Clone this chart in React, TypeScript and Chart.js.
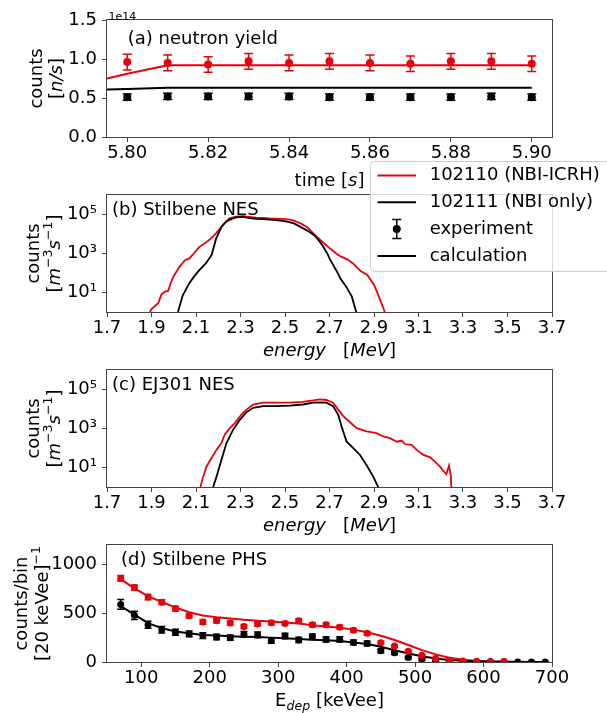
import React, { useEffect, useRef } from 'react';
import { Chart, registerables } from 'chart.js';

Chart.register(...registerables);

// ---------------- data ----------------
// (a) neutron yield, values in units of 1e14 n/s
const A_OFFSET_TEXT = '1e14';
const A_TIME_EXP = [5.80, 5.81, 5.82, 5.83, 5.84, 5.85, 5.86, 5.87, 5.88, 5.89, 5.90];
const A_RED_EXP = [0.96, 0.95, 0.93, 0.97, 0.95, 0.97, 0.95, 0.94, 0.97, 0.97, 0.94];
const A_RED_ERR = [0.10, 0.10, 0.10, 0.10, 0.10, 0.10, 0.10, 0.10, 0.10, 0.10, 0.10];
const A_BLACK_EXP = [0.51, 0.52, 0.52, 0.52, 0.52, 0.51, 0.51, 0.51, 0.51, 0.52, 0.51];
const A_BLACK_ERR = [0.04, 0.04, 0.04, 0.04, 0.04, 0.04, 0.04, 0.04, 0.04, 0.04, 0.04];
const A_TIME_CALC = [5.79, 5.80, 5.81, 5.82, 5.83, 5.84, 5.85, 5.86, 5.87, 5.88, 5.89, 5.90];
const A_RED_CALC = [0.69, 0.81, 0.92, 0.92, 0.92, 0.92, 0.92, 0.92, 0.92, 0.92, 0.92, 0.92];
const A_BLACK_CALC = [0.60, 0.615, 0.63, 0.63, 0.63, 0.63, 0.63, 0.63, 0.63, 0.63, 0.63, 0.63];
const A_X_TICKS = [5.80, 5.82, 5.84, 5.86, 5.88, 5.90];
const A_X_LABELS = ['5.80', '5.82', '5.84', '5.86', '5.88', '5.90'];
const A_Y_TICKS = [0, 0.5, 1.0, 1.5];
const A_Y_LABELS = ['0.0', '0.5', '1.0', '1.5'];

// (b) Stilbene NES
const B_RED_E = [1.88, 1.90, 1.93, 1.945, 1.96, 1.975, 1.99, 2.00, 2.025, 2.05, 2.07, 2.09, 2.115, 2.15, 2.17, 2.19, 2.22, 2.25, 2.28, 2.31, 2.34, 2.37, 2.40, 2.43, 2.46, 2.49, 2.52, 2.54, 2.57, 2.60, 2.63, 2.66, 2.70, 2.73, 2.75, 2.78, 2.81, 2.84, 2.87, 2.90, 2.925, 2.945, 2.96];
const B_RED_COUNTS = [0.5, 1.4, 2.8, 8, 11, 12, 40, 70, 200, 450, 560, 1000, 2200, 4000, 6300, 10700, 28000, 63000, 78000, 83000, 76000, 69000, 66000, 63000, 62000, 59000, 54000, 48000, 35000, 22000, 10000, 4800, 1900, 1000, 710, 500, 280, 125, 80, 25, 5, 1.3, 0.4];
const B_BLACK_E = [2.01, 2.02, 2.04, 2.07, 2.09, 2.115, 2.145, 2.17, 2.19, 2.215, 2.235, 2.255, 2.28, 2.31, 2.34, 2.37, 2.40, 2.43, 2.46, 2.49, 2.515, 2.54, 2.58, 2.61, 2.63, 2.65, 2.67, 2.69, 2.70, 2.72, 2.735, 2.75, 2.775, 2.80, 2.815, 2.83];
const B_BLACK_COUNTS = [0.5, 1.1, 7, 30, 63, 140, 320, 830, 5600, 24000, 43000, 56000, 71000, 76000, 66000, 59000, 58000, 55000, 52000, 47000, 42000, 35000, 20000, 12600, 8900, 5000, 2400, 1000, 560, 220, 110, 50, 20, 6.3, 1.6, 0.4];

// (c) EJ301 NES
const C_RED_E = [2.10, 2.12, 2.132, 2.147, 2.169, 2.192, 2.214, 2.229, 2.252, 2.274, 2.304, 2.327, 2.357, 2.402, 2.447, 2.52, 2.58, 2.626, 2.656, 2.686, 2.716, 2.739, 2.762, 2.792, 2.822, 2.867, 2.912, 2.942, 2.972, 3.002, 3.024, 3.039, 3.069, 3.092, 3.122, 3.152, 3.174, 3.197, 3.21, 3.225, 3.237, 3.245, 3.252];
const C_RED_COUNTS = [0.3, 1, 3.3, 11, 30, 80, 180, 480, 1050, 1900, 5100, 9300, 17000, 21000, 21000, 21000, 23000, 28000, 31000, 29000, 21000, 9300, 4300, 2100, 1050, 710, 580, 390, 320, 210, 240, 160, 145, 80, 44, 33, 20, 11, 7, 4.5, 12.6, 4, 0.1];
const C_BLACK_E = [2.16, 2.177, 2.192, 2.214, 2.237, 2.267, 2.297, 2.327, 2.357, 2.402, 2.462, 2.522, 2.581, 2.626, 2.656, 2.686, 2.716, 2.739, 2.754, 2.777, 2.807, 2.837, 2.867, 2.897, 2.919, 2.93];
const C_BLACK_COUNTS = [0.3, 1, 3.3, 24, 180, 870, 2800, 6800, 11500, 14000, 14000, 15000, 17000, 21000, 22000, 21000, 14000, 5100, 1300, 210, 98, 44, 13, 3.3, 1, 0.3];

const NES_X_TICKS = [1.7, 1.9, 2.1, 2.3, 2.5, 2.7, 2.9, 3.1, 3.3, 3.5, 3.7];
const NES_X_LABELS = ['1.7', '1.9', '2.1', '2.3', '2.5', '2.7', '2.9', '3.1', '3.3', '3.5', '3.7'];
const NES_Y_TICKS = [10, 1000, 100000];
const NES_Y_LABELS = ['10¹', '10³', '10⁵'];

// (d) Stilbene PHS
const D_RED_X = [70, 90, 110, 130, 150, 170, 190, 210, 230, 250, 270, 290, 310, 330, 350, 370, 390, 410, 430, 450, 470, 490, 510, 530, 550, 570, 590, 610, 630];
const D_RED_EXP = [857, 763, 666, 614, 548, 475, 409, 423, 399, 364, 389, 402, 396, 423, 382, 382, 357, 326, 295, 198, 163, 111, 69, 35, 17, 10, 7, 5, 4];
const D_RED_ERR = [30, 28, 27, 25, 24, 23, 21, 21, 20, 20, 20, 20, 20, 21, 20, 20, 19, 18, 17, 14, 13, 11, 9, 6, 5, 4, 3, 3, 2];
const D_BLACK_X = [70, 90, 110, 130, 150, 170, 190, 210, 230, 250, 270, 290, 310, 330, 350, 370, 390, 410, 430, 450, 470, 490, 510, 530, 550, 570, 590, 610, 630, 650, 670, 690];
const D_BLACK_EXP = [590, 479, 382, 330, 305, 288, 271, 257, 250, 285, 278, 219, 267, 226, 260, 232, 232, 201, 191, 115, 94, 45, 28, 14, 7, 3, 3, 2, 2, 1, 1, 1];
const D_BLACK_ERR = [50, 42, 36, 33, 31, 30, 29, 28, 28, 29, 29, 27, 28, 27, 28, 27, 27, 25, 24, 19, 17, 12, 10, 7, 5, 4, 3, 3, 3, 2, 2, 2];
const D_CALC_X = D_BLACK_X;
const D_RED_CALC = [850, 755, 675, 615, 560, 510, 478, 458, 445, 434, 424, 416, 406, 394, 378, 365, 352, 332, 305, 270, 225, 175, 122, 78, 44, 22, 11, 5, 3, 2, 1, 1];
const D_BLACK_CALC = [573, 486, 399, 347, 312, 295, 278, 271, 264, 260, 257, 250, 243, 236, 229, 222, 215, 201, 184, 156, 121, 87, 59, 35, 21, 12, 7, 4, 2, 1, 1, 1];
const D_X_TICKS = [100, 200, 300, 400, 500, 600, 700];
const D_X_LABELS = ['100', '200', '300', '400', '500', '600', '700'];
const D_Y_TICKS = [0, 500, 1000];
const D_Y_LABELS = ['0', '500', '1000'];

const LEGEND_LABELS = ['102110 (NBI-ICRH)', '102111 (NBI only)', 'experiment', 'calculation'];

// ---------------- style / layout ----------------
const W = 607;
const H = 713;
const PLOT_LEFT = 107;
const PLOT_RIGHT = 552;
const X_AXIS_BOX = 30;
const FONT = '"DejaVu Sans", sans-serif';
const RED = '#e8000b';
const BLACK = '#000000';
const AXIS = '#444444';
const FS = 18;

type Seg = { t: string; it?: boolean; sup?: boolean; sub?: boolean };

function segFont(s: Seg, size: number) {
  const sz = s.sup || s.sub ? size * 0.7 : size;
  return `${s.it ? 'italic ' : ''}${sz}px ${FONT}`;
}

function drawRich(ctx: CanvasRenderingContext2D, segs: Seg[], x: number, y: number, size: number, align: 'left' | 'center', rotate = false) {
  ctx.save();
  ctx.translate(x, y);
  if (rotate) ctx.rotate(-Math.PI / 2);
  ctx.textAlign = 'left';
  ctx.textBaseline = 'alphabetic';
  ctx.fillStyle = '#000';
  const widths = segs.map((s) => {
    ctx.font = segFont(s, size);
    return ctx.measureText(s.t).width;
  });
  const total = widths.reduce((a, b) => a + b, 0);
  let cx = align === 'center' ? -total / 2 : 0;
  segs.forEach((s, i) => {
    ctx.font = segFont(s, size);
    const dy = s.sup ? -0.42 * size : s.sub ? 0.22 * size : 0;
    ctx.fillText(s.t, cx, dy);
    cx += widths[i];
  });
  ctx.restore();
}

function drawFrame(chart: any) {
  const { ctx, chartArea: a } = chart;
  ctx.save();
  ctx.strokeStyle = AXIS;
  ctx.lineWidth = 1;
  const l = Math.round(a.left) - 0.5;
  const r = Math.round(a.right) + 0.5;
  const t = Math.round(a.top) - 0.5;
  const b = Math.round(a.bottom) + 0.5;
  ctx.strokeRect(l, t, r - l, b - t);
  ctx.restore();
}

const errorBarPlugin = {
  id: 'errorBars',
  beforeDatasetDraw(chart: any, args: any) {
    const ds = chart.data.datasets[args.index];
    if (!ds.errors) return;
    const { ctx, chartArea: a } = chart;
    const xs = chart.scales.x;
    const ys = chart.scales.y;
    ctx.save();
    ctx.beginPath();
    ctx.rect(a.left, a.top, a.right - a.left, a.bottom - a.top);
    ctx.clip();
    ctx.strokeStyle = ds.pointBackgroundColor;
    ctx.lineWidth = 1.5;
    const c = ds.capHalf || 4;
    ds.data.forEach((p: any, i: number) => {
      const e = ds.errors[i];
      const x = xs.getPixelForValue(p.x);
      const yt = ys.getPixelForValue(p.y + e);
      const yb = ys.getPixelForValue(p.y - e);
      ctx.beginPath();
      ctx.moveTo(x, yt);
      ctx.lineTo(x, yb);
      ctx.moveTo(x - c, yt);
      ctx.lineTo(x + c, yt);
      ctx.moveTo(x - c, yb);
      ctx.lineTo(x + c, yb);
      ctx.stroke();
    });
    ctx.restore();
  },
};

const pts = (xs: number[], ys: number[]) => xs.map((x, i) => ({ x, y: ys[i] }));

function lineDs(xs: number[], ys: number[], color: string, width = 2) {
  return { data: pts(xs, ys), borderColor: color, borderWidth: width, pointRadius: 0, fill: false, tension: 0 };
}

function expDs(xs: number[], ys: number[], errs: number[], color: string, r: number, cap: number) {
  return {
    data: pts(xs, ys),
    errors: errs,
    capHalf: cap,
    showLine: false,
    pointRadius: r,
    pointBackgroundColor: color,
    pointBorderColor: color,
    pointBorderWidth: 0,
    borderColor: color,
  };
}

interface PanelCfg {
  top: number;
  bottom: number;
  xMin: number;
  xMax: number;
  xTicks: number[];
  xLabels: string[];
  yType: 'linear' | 'logarithmic';
  yMin: number;
  yMax: number;
  yTicks: number[];
  yLabels: string[];
  datasets: any[];
  extras: (ctx: CanvasRenderingContext2D, chart: any) => void;
}

function makeChart(canvas: HTMLCanvasElement, p: PanelCfg) {
  const tickFont = { family: FONT, size: FS };
  const grid = { display: true, drawOnChartArea: false, drawTicks: true, tickLength: 5, tickColor: AXIS, tickWidth: 1 };
  return new Chart(canvas, {
    type: 'line',
    data: { datasets: p.datasets },
    options: {
      animation: false,
      responsive: false,
      devicePixelRatio: 1,
      events: [],
      layout: { padding: { left: 0, right: W - PLOT_RIGHT, top: p.top, bottom: H - p.bottom - X_AXIS_BOX } },
      plugins: { legend: { display: false }, tooltip: { enabled: false }, title: { display: false } },
      scales: {
        x: {
          type: 'linear',
          position: 'bottom',
          min: p.xMin,
          max: p.xMax,
          bounds: 'data',
          afterBuildTicks: (s: any) => {
            s.ticks = p.xTicks.map((v) => ({ value: v }));
          },
          afterFit: (s: any) => {
            s.height = X_AXIS_BOX;
          },
          ticks: {
            callback: (_v: any, i: number) => p.xLabels[i],
            font: tickFont,
            color: '#000',
            padding: 1,
            maxRotation: 0,
            minRotation: 0,
            autoSkip: false,
          },
          grid,
          border: { display: false },
        },
        y: {
          type: p.yType,
          position: 'left',
          min: p.yMin,
          max: p.yMax,
          bounds: 'data',
          afterBuildTicks: (s: any) => {
            s.ticks = p.yTicks.map((v) => ({ value: v }));
          },
          afterFit: (s: any) => {
            s.width = PLOT_LEFT;
          },
          ticks: {
            callback: (_v: any, i: number) => p.yLabels[i],
            font: tickFont,
            color: '#000',
            padding: 5,
            autoSkip: false,
          },
          grid,
          border: { display: false },
        },
      },
    } as any,
    plugins: [
      errorBarPlugin,
      {
        id: 'extras',
        afterDraw: (chart: any) => {
          drawFrame(chart);
          p.extras(chart.ctx, chart);
        },
      },
    ],
  } as any);
}

function drawPanelLabel(ctx: CanvasRenderingContext2D, text: string, x: number, baseline: number) {
  drawRich(ctx, [{ t: text }], x, baseline, FS, 'left');
}

const NES_YTITLE: Seg[] = [{ t: '[' }, { t: 'm', it: true }, { t: '−3', sup: true }, { t: 's', it: true }, { t: '−1', sup: true }, { t: ']' }];
const NES_XTITLE: Seg[] = [{ t: 'energy', it: true }, { t: '   [' }, { t: 'MeV', it: true }, { t: ']' }];

function drawLegend(ctx: CanvasRenderingContext2D) {
  ctx.save();
  const x0 = 370.5;
  const y0 = 161.5;
  const x1 = 680;
  const y1 = 271.5;
  ctx.beginPath();
  (ctx as any).roundRect(x0, y0, x1 - x0, y1 - y0, 4);
  ctx.fillStyle = 'rgba(255,255,255,0.8)';
  ctx.fill();
  ctx.strokeStyle = '#cccccc';
  ctx.lineWidth = 1;
  ctx.stroke();
  const ys = [175.5, 202.3, 229.1, 255.9];
  const hx0 = 377.5;
  const hx1 = 416;
  const hxc = (hx0 + hx1) / 2;
  const seg = (y: number, color: string) => {
    ctx.beginPath();
    ctx.moveTo(hx0, y);
    ctx.lineTo(hx1, y);
    ctx.strokeStyle = color;
    ctx.lineWidth = 2;
    ctx.stroke();
  };
  seg(ys[0], RED);
  seg(ys[1], BLACK);
  ctx.strokeStyle = BLACK;
  ctx.lineWidth = 1.5;
  ctx.beginPath();
  ctx.moveTo(hxc, ys[2] - 9.5);
  ctx.lineTo(hxc, ys[2] + 9.5);
  ctx.moveTo(hxc - 4.5, ys[2] - 9.5);
  ctx.lineTo(hxc + 4.5, ys[2] - 9.5);
  ctx.moveTo(hxc - 4.5, ys[2] + 9.5);
  ctx.lineTo(hxc + 4.5, ys[2] + 9.5);
  ctx.stroke();
  ctx.beginPath();
  ctx.arc(hxc, ys[2], 4, 0, Math.PI * 2);
  ctx.fillStyle = BLACK;
  ctx.fill();
  seg(ys[3], BLACK);
  ctx.fillStyle = '#000';
  ctx.font = `${FS}px ${FONT}`;
  ctx.textAlign = 'left';
  ctx.textBaseline = 'middle';
  LEGEND_LABELS.forEach((t, i) => ctx.fillText(t, 429.7, ys[i]));
  ctx.restore();
}

function buildA(canvas: HTMLCanvasElement) {
  return makeChart(canvas, {
    top: 20,
    bottom: 137,
    xMin: 5.795,
    xMax: 5.905,
    xTicks: A_X_TICKS,
    xLabels: A_X_LABELS,
    yType: 'linear',
    yMin: 0,
    yMax: 1.5,
    yTicks: A_Y_TICKS,
    yLabels: A_Y_LABELS,
    datasets: [
      expDs(A_TIME_EXP, A_RED_EXP, A_RED_ERR, RED, 4, 4.5),
      expDs(A_TIME_EXP, A_BLACK_EXP, A_BLACK_ERR, BLACK, 4, 4.5),
      lineDs(A_TIME_CALC, A_RED_CALC, RED),
      lineDs(A_TIME_CALC, A_BLACK_CALC, BLACK),
    ],
    extras: (ctx) => {
      drawPanelLabel(ctx, '(a) neutron yield', 127.8, 44);
      drawRich(ctx, [{ t: A_OFFSET_TEXT }], 108.4, 19.5, 11, 'left');
      drawRich(ctx, [{ t: 'time [' }, { t: 's', it: true }, { t: ']' }], 329.5, 186.4, FS, 'center');
      drawRich(ctx, [{ t: 'counts' }], 41.5, 78.5, FS, 'center', true);
      drawRich(ctx, [{ t: '[' }, { t: 'n/s', it: true }, { t: ']' }], 62, 78.5, FS, 'center', true);
    },
  });
}

function buildNES(canvas: HTMLCanvasElement, top: number, bottom: number, label: string, redE: number[], redC: number[], blackE: number[], blackC: number[], legend: boolean) {
  return makeChart(canvas, {
    top,
    bottom,
    xMin: 1.7,
    xMax: 3.7,
    xTicks: NES_X_TICKS,
    xLabels: NES_X_LABELS,
    yType: 'logarithmic',
    yMin: 1,
    yMax: 1e6,
    yTicks: NES_Y_TICKS,
    yLabels: NES_Y_LABELS,
    datasets: [lineDs(blackE, blackC, BLACK, 1.8), lineDs(redE, redC, RED, 1.8)],
    extras: (ctx) => {
      drawPanelLabel(ctx, label, 112, top + 19.5);
      drawRich(ctx, NES_XTITLE, 329.5, bottom + 44.4, FS, 'center');
      const cy = (top + bottom) / 2;
      drawRich(ctx, [{ t: 'counts' }], 38.5, cy, FS, 'center', true);
      drawRich(ctx, NES_YTITLE, 59.5, cy, FS, 'center', true);
      if (legend) drawLegend(ctx);
    },
  });
}

function buildD(canvas: HTMLCanvasElement) {
  const top = 545;
  const bottom = 662;
  return makeChart(canvas, {
    top,
    bottom,
    xMin: 50,
    xMax: 700,
    xTicks: D_X_TICKS,
    xLabels: D_X_LABELS,
    yType: 'linear',
    yMin: 0,
    yMax: 1200,
    yTicks: D_Y_TICKS,
    yLabels: D_Y_LABELS,
    datasets: [
      expDs(D_RED_X, D_RED_EXP, D_RED_ERR, RED, 3.5, 3.5),
      expDs(D_BLACK_X, D_BLACK_EXP, D_BLACK_ERR, BLACK, 3.5, 3.5),
      lineDs(D_CALC_X, D_BLACK_CALC, BLACK),
      lineDs(D_CALC_X, D_RED_CALC, RED),
    ],
    extras: (ctx) => {
      drawPanelLabel(ctx, '(d) Stilbene PHS', 121, 564.8);
      drawRich(ctx, [{ t: 'E' }, { t: 'dep', sub: true, it: true }, { t: ' [keVee]' }], 329.5, bottom + 44.4, FS, 'center');
      const cy = (top + bottom) / 2;
      drawRich(ctx, [{ t: 'counts/bin' }], 27, cy, FS, 'center', true);
      drawRich(ctx, [{ t: '[20 keVee]' }, { t: '−1', sup: true }], 48, cy, FS, 'center', true);
    },
  });
}

export default function App() {
  const refA = useRef<HTMLCanvasElement>(null);
  const refB = useRef<HTMLCanvasElement>(null);
  const refC = useRef<HTMLCanvasElement>(null);
  const refD = useRef<HTMLCanvasElement>(null);

  useEffect(() => {
    const charts = [
      buildA(refA.current!),
      buildNES(refB.current!, 195, 312, '(b) Stilbene NES', B_RED_E, B_RED_COUNTS, B_BLACK_E, B_BLACK_COUNTS, true),
      buildNES(refC.current!, 370, 487, '(c) EJ301 NES', C_RED_E, C_RED_COUNTS, C_BLACK_E, C_BLACK_COUNTS, false),
      buildD(refD.current!),
    ];
    return () => charts.forEach((c) => c.destroy());
  }, []);

  const style: React.CSSProperties = { position: 'absolute', left: 0, top: 0, width: W, height: H };
  return (
    <div style={{ position: 'absolute', left: 0, top: 0, width: W, height: H, overflow: 'hidden', background: '#fff' }}>
      <canvas ref={refA} width={W} height={H} style={style} />
      <canvas ref={refB} width={W} height={H} style={style} />
      <canvas ref={refC} width={W} height={H} style={style} />
      <canvas ref={refD} width={W} height={H} style={style} />
    </div>
  );
}
